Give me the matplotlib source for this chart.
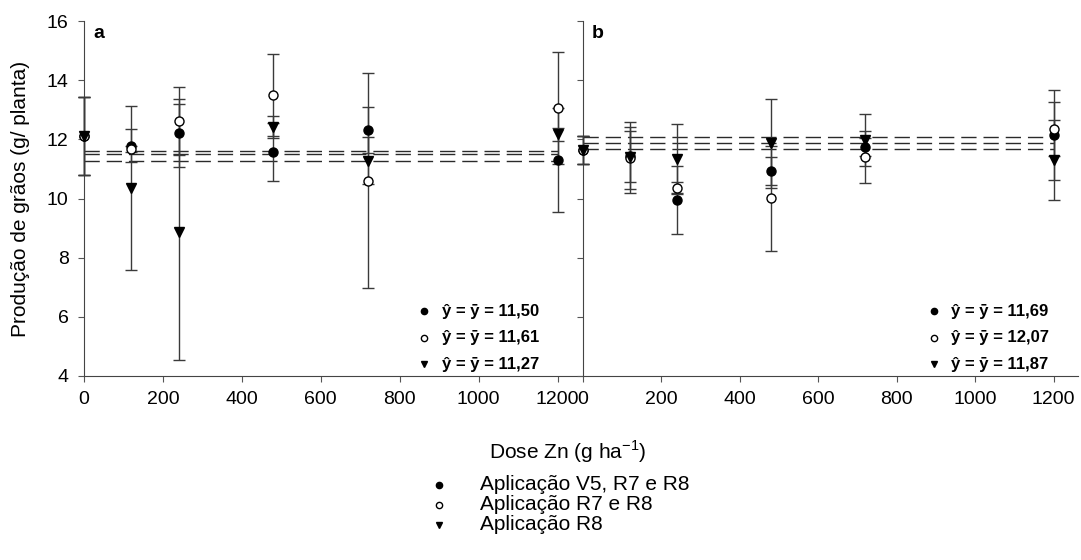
import matplotlib
matplotlib.use('Agg')
import matplotlib.pyplot as plt
from matplotlib.lines import Line2D

plt.rcParams['font.family'] = ['Liberation Sans', 'DejaVu Sans']
plt.rcParams['mathtext.fontset'] = 'custom'
plt.rcParams['mathtext.rm'] = 'Liberation Sans'

# ---- data ----
doses = [0, 120, 240, 480, 720, 1200]

a_v5 = [12.10, 11.79, 12.21, 11.58, 12.32, 11.30]
a_v5_err = [1.32, 0.55, 1.16, 0.98, 0.78, 1.76]
a_r7 = [12.10, 11.68, 12.62, 13.50, 10.60, 13.05]
a_r7_err = [1.32, 0.10, 1.16, 1.39, 3.63, 1.89]
a_r8 = [12.10, 10.35, 8.88, 12.41, 11.28, 12.17]
a_r8_err = [1.32, 2.78, 4.33, 0.38, 0.79, 0.21]

b_v5 = [11.64, 11.42, 9.95, 10.93, 11.75, 12.15]
b_v5_err = [0.46, 0.86, 1.15, 0.47, 0.30, 1.52]
b_r7 = [11.64, 11.38, 10.37, 10.01, 11.40, 12.34]
b_r7_err = [0.46, 1.05, 0.20, 1.77, 0.88, 0.91]
b_r8 = [11.64, 11.40, 11.34, 11.87, 11.98, 11.30]
b_r8_err = [0.46, 1.20, 1.18, 1.50, 0.88, 1.35]

means_a = [11.50, 11.61, 11.27]
means_b = [11.69, 12.07, 11.87]
labels = ['Aplicação V5, R7 e R8', 'Aplicação R7 e R8', 'Aplicação R8']

# marker styles: filled circle, open circle, triangle
styles = [dict(marker='o', mfc='k', mec='k'),
          dict(marker='o', mfc='white', mec='k'),
          dict(marker='v', mfc='k', mec='k')]
ecol = '#3a3a3a'


def draw_panel(ax, series, means, letter, xleg):
    for (y, e), st in zip(series, styles):
        ax.errorbar(doses, y, yerr=e, ls='none', ms=6.5, mew=1, ecolor=ecol,
                    elinewidth=1, capsize=4, capthick=1, clip_on=False, zorder=3, **st)
    for m in means:
        ax.plot([0, 1200], [m, m], color='#2a2a2a', lw=1, dashes=(11, 5), zorder=2)
    ax.set_xlim(0, 1262)
    ax.set_ylim(4, 16)
    ax.set_xticks(range(0, 1201, 200))
    ax.set_yticks(range(4, 17, 2))
    for s in ['top', 'right']:
        ax.spines[s].set_visible(False)
    for s in ['left', 'bottom']:
        ax.spines[s].set_color('#444444')
    ax.tick_params(direction='out', length=4, color='#555555', labelsize=14, pad=7)
    ax.text(0.018, 0.988, letter, transform=ax.transAxes, fontsize=14, fontweight='bold', va='top')
    # mean equations
    for i, (m, st) in enumerate(zip(means, styles)):
        yy = 0.183 - i * 0.075
        ax.plot([xleg], [yy], transform=ax.transAxes, ls='none', ms=4.5, **st)
        ax.text(xleg + 0.035, yy, 'ŷ = ȳ = ' + f'{m:.2f}'.replace('.', ','), transform=ax.transAxes,
                fontsize=12, fontweight='bold', va='center')


fig = plt.figure(figsize=(10.81, 5.6), dpi=100)
ax1 = fig.add_axes([84 / 1081, 184 / 560, 498 / 1081, 355 / 560])
ax2 = fig.add_axes([583 / 1081, 184 / 560, 495 / 1081, 355 / 560])

draw_panel(ax1, [(a_v5, a_v5_err), (a_r7, a_r7_err), (a_r8, a_r8_err)], means_a, 'a', 0.683)
draw_panel(ax2, [(b_v5, b_v5_err), (b_r7, b_r7_err), (b_r8, b_r8_err)], means_b, 'b', 0.709)
ax2.tick_params(labelleft=False)

ax1.set_ylabel('Produção de grãos (g/ planta)', fontsize=15, labelpad=12)
fig.text(0.525, 0.193, 'Dose Zn (g ha$^{\\mathregular{-1}}$)', ha='center', va='center', fontsize=15)

# bottom legend, drawn row by row
for i, (lab, st) in enumerate(zip(labels, styles)):
    yy = 1 - (485 + 20 * i) / 560
    fig.add_artist(Line2D([439 / 1081], [yy], transform=fig.transFigure, ls='none', ms=4.5, **st))
    fig.text(480 / 1081, yy, lab, fontsize=15, va='center')

fig.savefig('out.png', dpi=100)
